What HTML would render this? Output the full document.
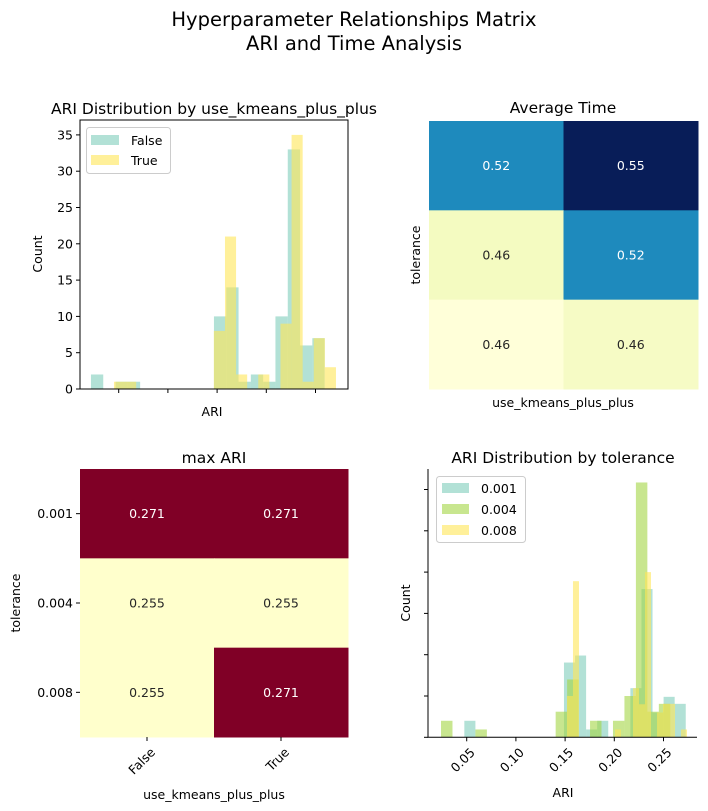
<!DOCTYPE html>
<html><head><meta charset="utf-8"><style>
body{margin:0;background:#fff}
svg{font-family:"DejaVu Sans","Liberation Sans",sans-serif;display:block}
</style></head><body>
<svg id="fig" width="708" height="811" viewBox="0 0 708 811" xmlns="http://www.w3.org/2000/svg">
<text x="354" y="26" font-size="19.5" text-anchor="middle">Hyperparameter Relationships Matrix</text>
<text x="354" y="50" font-size="19.5" text-anchor="middle">ARI and Time Analysis</text>
<g id="g1"></g>
<g id="g2"></g>
<g id="g3"></g>
<g id="g4"></g>
</svg>
<script>
// ---- data ----
const kmFalseRange=[0.0218,0.2718];
const kmFalseCounts=[2,0,1,1,0,0,0,0,0,0,10,14,1,2,1,10,33,6,7,0];
const kmTrueRange=[0.0452,0.2708];
const kmTrueCounts=[1,1,0,0,0,0,0,0,0,8,21,2,0,2,0,9,35,1,7,3];
const histYTicks=[0,5,10,15,20,25,30,35];
const timeRows=["0.001","0.004","0.008"];
const timeCols=["False","True"];
const timeVals=[[0.516,0.55],[0.462,0.516],[0.455,0.461]];
const maxAriVals=[[0.271,0.271],[0.255,0.255],[0.255,0.271]];
const tol1Range=[0.0476,0.2726];
const tol1Dens=[0.4,0,0,0,0,0,0,0,0,1.81,1.98,0.19,0.4,0,0,1.19,3.59,0.6,0.98,0.81];
const tol4Range=[0.0239,0.2569];
const tol4Dens=[0.4,0,0,0.19,0,0,0,0,0,0,0.62,1.4,0,0.4,0,0.4,1.0,6.17,0.62,0.81];
const tol8Range=[0.1519,0.2739];
const tol8Dens=[1.0,3.78,0,0,0,0,0,0,0.19,0,0,1.19,0.8,4.0,0,0.6,0.81,0.81,0,0.19];
const ariTicks=[0.05,0.10,0.15,0.20,0.25];
const densTicks=[0,1,2,3,4,5,6];

const NS="http://www.w3.org/2000/svg";
function mk(parent,tag,attrs,txt){const e=document.createElementNS(NS,tag);for(const k in attrs)e.setAttribute(k,attrs[k]);if(txt!==undefined)e.textContent=txt;parent.appendChild(e);return e;}
const TEAL="#7fcdbb",GREEN="#a3d544",YEL="#ffe657";
const FS=12.5, TS=15.5;
function xA(v,x0){return x0+38.7+(v-0.05)*984;}

// ---- panel 1 ----
(function(){
 const g=document.getElementById('g1');const L=80,R=348,T=120,B=389;
 const y=v=>B-v*7.26;
 function bars(range,counts,col,nm){const w=(range[1]-range[0])/counts.length;
  counts.forEach((c,i)=>{if(!c)return;const x1=xA(range[0]+i*w,L),x2=xA(range[0]+(i+1)*w,L);
   const r=mk(g,'rect',{x:x1,y:y(c),width:x2-x1,height:y(0)-y(c),fill:col,'fill-opacity':0.6});
   
   });}
 bars(kmFalseRange,kmFalseCounts,TEAL,'false');
 bars(kmTrueRange,kmTrueCounts,YEL,'true');
 const ax=mk(g,'rect',{x:L,y:T,width:R-L,height:B-T,fill:'none',stroke:'#000','stroke-width':1});
 
 histYTicks.forEach(t=>{mk(g,'line',{x1:L-4,x2:L,y1:y(t),y2:y(t),stroke:'#000'});
  const tx=mk(g,'text',{x:L-7,y:y(t)+4.5,'font-size':FS,'text-anchor':'end'},t);
  });
 ariTicks.forEach(t=>{mk(g,'line',{x1:xA(t,L),x2:xA(t,L),y1:B,y2:B+4,stroke:'#000'});});
 const t1=mk(g,'text',{x:212,y:416,'font-size':FS,'text-anchor':'middle'},'ARI');
 const t2=mk(g,'text',{x:0,y:0,'font-size':FS,'text-anchor':'middle',transform:'translate(42,254) rotate(-90)'},'Count');
 const t3=mk(g,'text',{x:214,y:114,'font-size':TS,'text-anchor':'middle'},'ARI Distribution by use_kmeans_plus_plus');
 const lg=mk(g,'g',{});
 mk(lg,'rect',{x:86.5,y:127.5,width:84,height:46,rx:3,fill:'#fff','fill-opacity':0.8,stroke:'#ccc'});
 mk(lg,'rect',{x:91,y:135,width:28,height:10,fill:TEAL,'fill-opacity':0.6});
 mk(lg,'text',{x:131,y:145,'font-size':FS},'False');
 mk(lg,'rect',{x:91,y:155,width:28,height:10,fill:YEL,'fill-opacity':0.6});
 mk(lg,'text',{x:131,y:165,'font-size':FS},'True');
})();

// colormaps
function interp(stops,t){t=Math.max(0,Math.min(1,t));const n=stops.length-1;const i=Math.min(n-1,Math.floor(t*n));const f=t*n-i;
 const a=stops[i],b=stops[i+1];return 'rgb('+[0,1,2].map(k=>Math.round(a[k]+(b[k]-a[k])*f)).join(',')+')';}
const YlGnBu=[[255,255,217],[237,248,177],[199,233,180],[127,205,187],[65,182,196],[29,145,192],[34,94,168],[37,52,148],[8,29,88]];
const YlOrRd=[[255,255,204],[255,237,160],[254,217,118],[254,178,76],[253,141,60],[252,78,42],[227,26,28],[189,0,38],[128,0,38]];

function heat(g,vals,L,R,T,B,cmap,fmt,nm){
 let mn=Infinity,mx=-Infinity;vals.forEach(r=>r.forEach(v=>{mn=Math.min(mn,v);mx=Math.max(mx,v);}));
 const cw=(R-L)/vals[0].length,ch=(B-T)/vals.length;
 vals.forEach((row,i)=>row.forEach((v,j)=>{const t=(v-mn)/(mx-mn);
  const r=mk(g,'rect',{x:L+j*cw,y:T+i*ch,width:cw+0.5,height:ch+0.5,fill:interp(cmap,t)});
  
  const tx=mk(g,'text',{x:L+(j+.5)*cw,y:T+(i+.5)*ch+4.5,'font-size':FS,'text-anchor':'middle',fill:t>0.5?'#fff':'#262626'},fmt(v));
  }));
}
// ---- panel 2 ----
(function(){const g=document.getElementById('g2');
 heat(g,timeVals,429,698,121,389,YlGnBu,v=>(Math.round(v*100)/100).toFixed(2),'time');
 const a=mk(g,'text',{x:563,y:407,'font-size':FS,'text-anchor':'middle'},'use_kmeans_plus_plus');
 const b=mk(g,'text',{x:0,y:0,'font-size':FS,'text-anchor':'middle',transform:'translate(420,255) rotate(-90)'},'tolerance');
 const c=mk(g,'text',{x:563,y:113,'font-size':TS,'text-anchor':'middle'},'Average Time');
})();
// ---- panel 3 ----
(function(){const g=document.getElementById('g3');const L=80,R=348,T=469,B=737;
 heat(g,maxAriVals,L,R,T,B,YlOrRd,v=>v.toFixed(3),'max-ari');
 const ch=(B-T)/3,cw=(R-L)/2;
 timeRows.forEach((r,i)=>{const yy=T+(i+.5)*ch;mk(g,'line',{x1:L-4,x2:L,y1:yy,y2:yy,stroke:'#000'});
  const t=mk(g,'text',{x:L-7,y:yy+4.5,'font-size':FS,'text-anchor':'end'},r);});
 timeCols.forEach((c,j)=>{const xx=L+(j+.5)*cw;mk(g,'line',{x1:xx,x2:xx,y1:B,y2:B+4,stroke:'#000'});
  const t=mk(g,'text',{x:0,y:0,'font-size':FS,'text-anchor':'end',transform:`translate(${xx+9},${B+16}) rotate(-45)`},c);});
 const a=mk(g,'text',{x:214,y:799,'font-size':FS,'text-anchor':'middle'},'use_kmeans_plus_plus');
 const b=mk(g,'text',{x:0,y:0,'font-size':FS,'text-anchor':'middle',transform:'translate(20,603) rotate(-90)'},'tolerance');
 const c=mk(g,'text',{x:214,y:463,'font-size':TS,'text-anchor':'middle'},'max ARI');
})();
// ---- panel 4 ----
(function(){const g=document.getElementById('g4');const L=428,R=697,T=469,B=737.3;
 const y=v=>B-v*41.3;
 function bars(range,d,col,nm){const w=(range[1]-range[0])/d.length;
  d.forEach((c,i)=>{if(!c)return;const x1=xA(range[0]+i*w,L),x2=xA(range[0]+(i+1)*w,L);
   const r=mk(g,'rect',{x:x1,y:y(c),width:x2-x1,height:y(0)-y(c),fill:col,'fill-opacity':0.6});
   
   });}
 bars(tol1Range,tol1Dens,TEAL,'tol-0.001');
 bars(tol4Range,tol4Dens,GREEN,'tol-0.004');
 bars(tol8Range,tol8Dens,YEL,'tol-0.008');
 const ax=mk(g,'path',{d:`M${L},${T}V${B}H${R}`,fill:'none',stroke:'#000'});
 densTicks.forEach(t=>mk(g,'line',{x1:L-4,x2:L,y1:y(t),y2:y(t),stroke:'#000'}));
 ariTicks.forEach(t=>{const xx=xA(t,L);mk(g,'line',{x1:xx,x2:xx,y1:B,y2:B+4,stroke:'#000'});
  const tx=mk(g,'text',{x:0,y:0,'font-size':FS,'text-anchor':'end',transform:`translate(${xx+9},${B+16}) rotate(-45)`},t.toFixed(2));});
 const a=mk(g,'text',{x:563,y:797,'font-size':FS,'text-anchor':'middle'},'ARI');
 const b=mk(g,'text',{x:0,y:0,'font-size':FS,'text-anchor':'middle',transform:'translate(410,603) rotate(-90)'},'Count');
 const c=mk(g,'text',{x:563,y:463,'font-size':TS,'text-anchor':'middle'},'ARI Distribution by tolerance');
 const lg=mk(g,'g',{});
 mk(lg,'rect',{x:436.5,y:476.5,width:89,height:66,rx:3,fill:'#fff','fill-opacity':0.8,stroke:'#ccc'});
 [["0.001",TEAL],["0.004",GREEN],["0.008",YEL]].forEach((e,i)=>{
  mk(lg,'rect',{x:442,y:483+i*21,width:27,height:10,fill:e[1],'fill-opacity':0.6});
  mk(lg,'text',{x:481,y:493+i*21,'font-size':FS},e[0]);});
})();
</script>
</body></html>
